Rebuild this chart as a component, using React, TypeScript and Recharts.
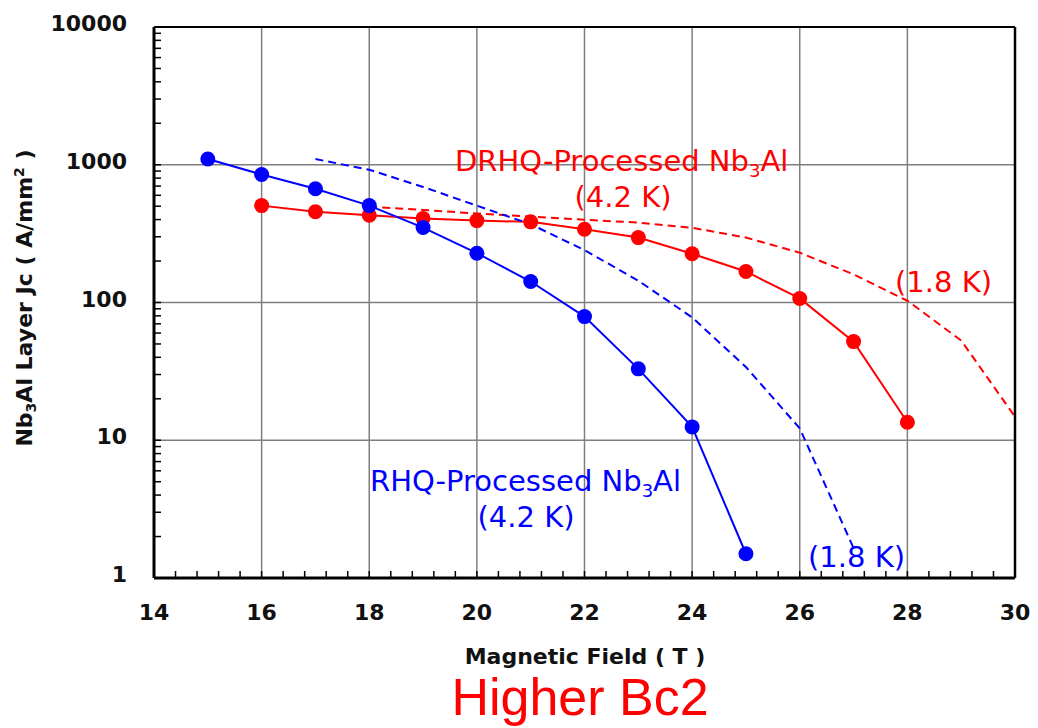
import React from "react";
import { LineChart, Line, XAxis, YAxis, CartesianGrid } from "recharts";

// ---- data ----
const rhq42X = [15, 16, 17, 18, 19, 20, 21, 22, 23, 24, 25];
const rhq42Jc = [1100, 850, 670, 505, 350, 228, 142, 79, 33, 12.5, 1.5];

const drhq42X = [16, 17, 18, 19, 20, 21, 22, 23, 24, 25, 26, 27, 28];
const drhq42Jc = [505, 456, 430, 408, 393, 385, 340, 296, 226, 168, 107, 52, 13.5];

const rhq18X = [17, 18, 19, 20, 21, 22, 23, 24, 25, 26, 27];
const rhq18Jc = [1100, 920, 690, 505, 370, 240, 144, 78, 34, 12.2, 1.65];

const drhq18X = [18, 19, 20, 21, 22, 23, 24, 25, 26, 27, 28, 29, 30];
const drhq18Jc = [497, 470, 442, 420, 399, 380, 349, 296, 230, 160, 103, 53, 14.8];

const xMajorTicks = [14, 16, 18, 20, 22, 24, 26, 28, 30];
const xMinorStep = 0.4;
const yMajorTicks = [1, 10, 100, 1000, 10000];

const xTicks: number[] = [];
for (let i = 0; i <= 40; i++) xTicks.push(Math.round((14 + i * xMinorStep) * 10) / 10);
const yTicks: number[] = [];
[1, 10, 100, 1000].forEach((d) => {
  for (let m = 1; m <= 9; m++) yTicks.push(d * m);
});
yTicks.push(10000);

const toRows = (xs: number[], ys: number[]) => xs.map((x, i) => ({ x, y: ys[i] }));
const rhq42 = toRows(rhq42X, rhq42Jc);
const drhq42 = toRows(drhq42X, drhq42Jc);
const rhq18 = toRows(rhq18X, rhq18Jc);
const drhq18 = toRows(drhq18X, drhq18Jc);

const RED = "#ff0000";
const BLUE = "#0000ff";
const BOLD_FONT = "'DejaVu Sans', Verdana, sans-serif";

const XTick = (props: any) => {
  const { x, y, payload } = props;
  const v = payload.value;
  const major = xMajorTicks.some((m) => Math.abs(m - v) < 1e-6);
  return (
    <g>
      <line x1={x} x2={x} y1={y} y2={y - 7} stroke="#000" strokeWidth={1.5} />
      {major && (
        <text x={x} y={y + 42} textAnchor="middle" fontFamily={BOLD_FONT} fontWeight="bold" fontSize={22} fill="#111">
          {v}
        </text>
      )}
    </g>
  );
};

const YTick = (props: any) => {
  const { x, y, payload } = props;
  const v = payload.value;
  const major = yMajorTicks.some((m) => Math.abs(m - v) < 1e-6);
  return (
    <g>
      <line x1={x} x2={x + 7} y1={y} y2={y} stroke="#000" strokeWidth={1.5} />
      {major && (
        <text x={x - 27} y={y + 4} textAnchor="end" fontFamily={BOLD_FONT} fontWeight="bold" fontSize={22} fill="#111">
          {v}
        </text>
      )}
    </g>
  );
};

export default function App() {
  return (
    <div style={{ position: "relative", width: 1030, height: 720 }}>
      <LineChart
        width={1030}
        height={720}
        margin={{ top: 18, right: 22, bottom: 149, left: 145 }}
      >
        <CartesianGrid
          stroke="#7f7f7f"
          strokeWidth={1.5}
          verticalValues={[16, 18, 20, 22, 24, 26, 28]}
          horizontalValues={[10, 100, 1000]}
          xAxisId="x"
          yAxisId="y"
        />
        <XAxis
          xAxisId="x"
          type="number"
          dataKey="x"
          domain={[14, 30]}
          ticks={xTicks}
          interval={0}
          allowDataOverflow
          height={1}
          tickSize={0}
          tickMargin={0}
          tickLine={false}
          tick={<XTick />}
          axisLine={{ stroke: "#000", strokeWidth: 3 }}
        />
        <XAxis
          xAxisId="top"
          orientation="top"
          type="number"
          domain={[14, 30]}
          height={1}
          tick={false}
          tickLine={false}
          axisLine={{ stroke: "#000", strokeWidth: 2 }}
        />
        <YAxis
          yAxisId="y"
          scale="log"
          type="number"
          domain={[1, 10000]}
          ticks={yTicks}
          interval={0}
          allowDataOverflow
          width={1}
          tickSize={0}
          tickMargin={0}
          tickLine={false}
          tick={<YTick />}
          axisLine={{ stroke: "#000", strokeWidth: 3 }}
        />
        <YAxis
          yAxisId="right"
          orientation="right"
          type="number"
          domain={[0, 1]}
          width={1}
          tick={false}
          tickLine={false}
          axisLine={{ stroke: "#000", strokeWidth: 2.5 }}
        />
        <Line
          xAxisId="x"
          yAxisId="y"
          data={drhq18}
          dataKey="y"
          stroke={RED}
          strokeWidth={2}
          strokeDasharray="8 5"
          dot={false}
          isAnimationActive={false}
        />
        <Line
          xAxisId="x"
          yAxisId="y"
          data={drhq42}
          dataKey="y"
          stroke={RED}
          strokeWidth={2}
          dot={{ r: 7.5, fill: RED, stroke: "none" }}
          isAnimationActive={false}
        />
        <Line
          xAxisId="x"
          yAxisId="y"
          data={rhq42}
          dataKey="y"
          stroke={BLUE}
          strokeWidth={2}
          dot={{ r: 7.5, fill: BLUE, stroke: "none" }}
          isAnimationActive={false}
        />
        <Line
          xAxisId="x"
          yAxisId="y"
          data={rhq18}
          dataKey="y"
          stroke={BLUE}
          strokeWidth={2}
          strokeDasharray="8 5"
          dot={false}
          isAnimationActive={false}
        />
      </LineChart>
      <svg
        width={1030}
        height={720}
        style={{ position: "absolute", left: 0, top: 0, pointerEvents: "none" }}
      >
        <g fontFamily="'DejaVu Sans', Verdana, sans-serif" fontSize={29}>
          <text x={447} y={163} fill={RED}>
            <tspan>DRHQ-Processed Nb</tspan>
            <tspan fontSize={18} dy={6}>3</tspan>
            <tspan dy={-6}>Al</tspan>
          </text>
          <text x={615} y={199} fill={RED} textAnchor="middle">(4.2 K)</text>
          <text x={887} y={284} fill={RED}>(1.8 K)</text>
          <text x={362} y={483} fill={BLUE}>
            <tspan>RHQ-Processed Nb</tspan>
            <tspan fontSize={18} dy={6}>3</tspan>
            <tspan dy={-6}>Al</tspan>
          </text>
          <text x={518} y={519} fill={BLUE} textAnchor="middle">(4.2 K)</text>
          <text x={800} y={559} fill={BLUE}>(1.8 K)</text>
        </g>
        <text
          x={577}
          y={656}
          textAnchor="middle"
          fontFamily={BOLD_FONT}
          fontWeight="bold"
          fontSize={22}
          fill="#111"
        >
          Magnetic Field ( T )
        </text>
        <text
          transform="translate(24, 290) rotate(-90)"
          textAnchor="middle"
          fontFamily={BOLD_FONT}
          fontWeight="bold"
          fontSize={22}
          fill="#111"
        >
          <tspan>Nb</tspan>
          <tspan fontSize={14} dy={4}>3</tspan>
          <tspan dy={-4}>Al Layer Jc (  A/mm</tspan>
          <tspan fontSize={14} dy={-8}>2</tspan>
          <tspan dy={8}>  )</tspan>
        </text>
        <text
          x={572}
          y={707}
          textAnchor="middle"
          fontFamily="'Liberation Sans', Arial, sans-serif"
          fontSize={52}
          fill={RED}
        >
          Higher Bc2
        </text>
      </svg>
    </div>
  );
}
